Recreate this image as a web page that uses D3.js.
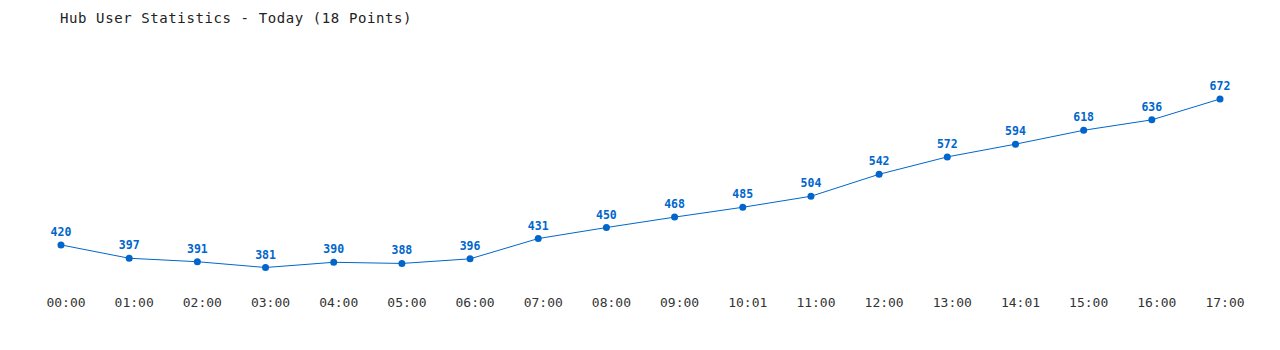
<!DOCTYPE html>
<html>
<head>
<meta charset="utf-8">
<script src="https://cdn.jsdelivr.net/npm/d3@7"></script>
<style>
  body { margin: 0; background: #fff; }
  svg { display: block; }
  text { font-family: "DejaVu Sans Mono", "Liberation Mono", monospace; }
</style>
</head>
<body>
<svg id="chart" width="1280" height="350"></svg>
<script>
// hourly labels and user counts
const hours = ["00:00", "01:00", "02:00", "03:00", "04:00", "05:00", "06:00", "07:00", "08:00",
  "09:00", "10:01", "11:00", "12:00", "13:00", "14:01", "15:00", "16:00", "17:00"];
const users = [420, 397, 391, 381, 390, 388, 396, 431, 450, 468, 485, 504, 542, 572, 594, 618, 636, 672];

const svg = d3.select('#chart');
const blue = '#0066cc';

const x = d3.scalePoint()
    .domain(hours)
    .range([61, 1220]);

const y = d3.scaleLinear()
    .domain([381, 672])
    .range([267.5, 99]);

svg.append('text')
    .attr('x', 60)
    .attr('y', 23)
    .attr('font-size', 14)
    .attr('letter-spacing', 0.6)
    .attr('fill', '#222')
    .text('Hub User Statistics - Today (18 Points)');

const data = hours.map((h, i) => ({h, v: users[i]}));

svg.append('path')
    .datum(data)
    .attr('fill', 'none')
    .attr('stroke', blue)
    .attr('stroke-width', 1)
    .attr('d', d3.line().x(d => x(d.h)).y(d => y(d.v)));

svg.selectAll('circle')
    .data(data)
    .enter()
    .append('circle')
    .attr('cx', d => x(d.h))
    .attr('cy', d => y(d.v))
    .attr('r', 3.5)
    .attr('fill', blue);

svg.selectAll('.val')
    .data(data)
    .enter()
    .append('text')
    .attr('class', 'val')
    .attr('x', d => x(d.h))
    .attr('y', d => y(d.v) - 9)
    .attr('text-anchor', 'middle')
    .attr('font-size', 11.5)
    .attr('font-weight', 'bold')
    .attr('fill', blue)
    .text(d => d.v);

// x axis labels, no domain line or ticks; labels sit a little right of the points
const axis = svg.append('g')
    .attr('transform', 'translate(4.5,290)')
    .call(d3.axisBottom(x).tickSize(0).tickPadding(8));
axis.select('.domain').remove();
axis.selectAll('text')
    .attr('font-size', 13)
    .attr('font-family', '"DejaVu Sans Mono", monospace')
    .attr('fill', '#333');
</script>
</body>
</html>
